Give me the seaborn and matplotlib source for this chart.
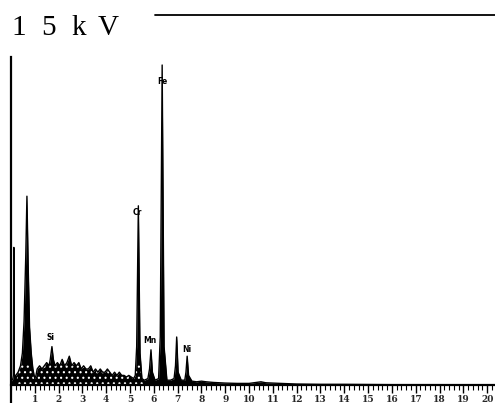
import matplotlib
matplotlib.use("Agg")
import matplotlib.pyplot as plt
import seaborn as sns
import numpy as np
import pandas as pd

# ---- data (energy keV, relative counts) ----
energy = [0.00, 0.08, 0.10, 0.12, 0.14, 0.20, 0.30, 0.40, 0.48, 0.55, 0.62, 0.67, 0.72,
          0.78, 0.85, 0.92, 1.00, 1.05, 1.10, 1.20, 1.30, 1.40, 1.50, 1.60, 1.65, 1.72,
          1.78, 1.85, 1.95, 2.05, 2.15, 2.25, 2.35, 2.45, 2.55, 2.65, 2.75, 2.85, 2.95,
          3.05, 3.15, 3.25, 3.35, 3.45, 3.55, 3.65, 3.75, 3.85, 3.95, 4.05, 4.15, 4.25,
          4.35, 4.45, 4.55, 4.65, 4.75, 4.85, 4.95, 5.05, 5.15, 5.22, 5.28, 5.35, 5.42,
          5.50, 5.60, 5.75, 5.82, 5.88, 5.94, 6.05, 6.20, 6.27, 6.35, 6.43, 6.55, 6.70,
          6.85, 6.91, 6.96, 7.02, 7.15, 7.30, 7.35, 7.40, 7.46, 7.60, 7.80, 8.00, 8.20,
          8.50, 9.00, 9.50, 10.00, 10.50, 10.70, 11.00, 12.00, 13.00, 14.00, 16.00,
          18.00, 20.30]
counts = [1.0, 2.0, 3.0, 43.0, 3.0, 3.0, 4.0, 6.0, 10.0, 20.0, 40.0, 59.0, 38.0,
          18.0, 10.0, 5.0, 2.0, 3.0, 5.0, 6.0, 5.0, 6.0, 7.0, 6.0, 8.0, 12.0,
          8.0, 6.0, 7.0, 6.0, 8.0, 6.0, 7.0, 9.0, 6.0, 7.0, 6.0, 7.0, 5.0,
          6.0, 5.0, 5.0, 6.0, 4.0, 5.0, 4.0, 5.0, 4.0, 4.0, 5.0, 4.0, 3.0,
          4.0, 3.0, 4.0, 3.0, 3.0, 2.5, 3.0, 2.5, 2.0, 3.0, 12.0, 56.0, 10.0,
          2.0, 1.5, 2.0, 5.0, 11.0, 4.0, 1.5, 2.0, 15.0, 100.0, 12.0, 1.5, 1.5,
          2.0, 6.0, 15.0, 4.0, 1.5, 1.5, 4.0, 9.0, 3.0, 1.2, 1.0, 1.2, 1.0,
          0.8, 0.6, 0.5, 0.5, 1.0, 0.7, 0.6, 0.3, 0.2, 0.2, 0.1,
          0.1, 0.0]

elements = ["Si", "Cr", "Mn", "Fe", "Ni"]
label_x = [1.64, 5.29, 5.84, 6.34, 7.39]
label_y = [14.7, 53.8, 14.0, 94.7, 11.0]

major_ticks = list(range(1, 21))
title_chars = ["1", "5", "k", "V"]

df = pd.DataFrame({"energy": energy, "counts": counts})

sns.set_style("white")
plt.rcParams["font.family"] = ["DejaVu Sans"]
plt.rcParams["hatch.linewidth"] = 0.8

fig = plt.figure(figsize=(4.95, 4.03), dpi=100)
ax = fig.add_axes([10.5 / 495, 0.0, 1 - 10.5 / 495, (403 - 57) / 403])

e = df["energy"].to_numpy()
c = df["counts"].to_numpy()
ax.fill_between(e, 0, c, facecolor="black", linewidth=0)
# mottled (speckled) look of the low background in the print
speck = (e > 0.2) & (e < 5.6)
ax.fill_between(e, 0, np.minimum(c, 6.5), where=speck, facecolor="none",
                edgecolor="white", hatch="...", linewidth=0, interpolate=True)
sns.lineplot(data=df, x="energy", y="counts", ax=ax, color="black",
             linewidth=1.0, estimator=None, sort=True)

ax.set_xlim(-0.02, 20.33)
ax.set_ylim(-5.625, 102.5)

ax.spines["top"].set_visible(False)
ax.spines["right"].set_visible(False)
ax.spines["bottom"].set_position(("data", 0))
ax.spines["bottom"].set_linewidth(1.6)
ax.spines["left"].set_linewidth(1.6)
ax.spines["bottom"].set_color("black")
ax.spines["left"].set_color("black")

ax.set_xticks(major_ticks)
ax.set_xticklabels([str(t) for t in major_ticks], fontsize=6.5,
                   fontweight="bold", family="DejaVu Serif")
ax.set_xticks(np.arange(0, 20.31, 0.2), minor=True)
ax.tick_params(axis="x", which="major", direction="out", length=6, width=1.0,
               pad=1.5, bottom=True, color="black")
ax.tick_params(axis="x", which="minor", direction="out", length=3.5, width=0.8,
               bottom=True, color="black")
ax.set_yticks([])
ax.set_xlabel("")
ax.set_ylabel("")

for el, lx, ly in zip(elements, label_x, label_y):
    ax.text(lx, ly, el, fontsize=5.5, fontweight="bold", ha="center",
            va="center", color="black", family="DejaVu Sans")

# title "1 5 k V" with wide letter spacing
char_px = [11, 41, 71, 98]
for ch, px in zip(title_chars, char_px):
    fig.text(px / 495, 1 - 35 / 403, ch, fontsize=21, family="Liberation Serif",
             ha="left", va="baseline", color="black")
fig.add_artist(plt.Line2D([155 / 495, 1.0], [1 - 15 / 403, 1 - 15 / 403],
                          color="black", linewidth=1.3))

fig.savefig("out.png", dpi=100, facecolor="white")
